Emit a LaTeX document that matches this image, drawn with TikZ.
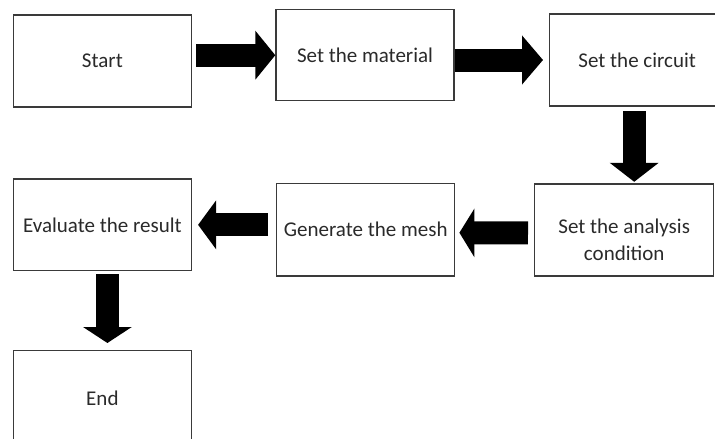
\documentclass[tikz,border=0pt]{standalone}
\usepackage{fontspec}
\setmainfont{Carlito}
\usetikzlibrary{arrows.meta,calc}
\definecolor{boxline}{HTML}{3A3A3A}
\definecolor{txt}{HTML}{2A2A2A}
\tikzset{
  stepbox/.style={draw=boxline, line width=1.4pt, fill=white, inner sep=0pt,
    text=txt, font=\fontsize{21}{25}\selectfont, align=center, anchor=north west},
  bigarrow/.style={line width=23pt, black,
    -{Triangle[length=#1, width=48pt]}},
  bigarrow/.default=19pt
}
\begin{document}
\begin{tikzpicture}[x=1pt,y=-1pt]
\useasboundingbox (0,0) rectangle (715,439);
\clip (0,0) rectangle (715,439);
\node[stepbox, minimum width=178pt, minimum height=92pt] (start) at (12.7,14.3) {\raisebox{-2pt}{Start}};
\node[stepbox, minimum width=178pt, minimum height=91pt] (mat) at (275.3,9) {Set the material};
\node[stepbox, minimum width=175pt, minimum height=92pt] (circ) at (549,13.3) {Set the circuit};
\node[stepbox, minimum width=179pt, minimum height=92pt] (ana) at (534,183.3) {};
\node[text=txt, font=\fontsize{21}{27}\selectfont, align=center, inner sep=0pt] (anatext) at ($(ana.center)+(0,-9.5pt)$) {Set the analysis\\condition};
\node[stepbox, minimum width=178pt, minimum height=92.6pt] (mesh) at (276,182.7) {\raisebox{-2pt}{Generate the mesh}};
\node[stepbox, minimum width=178pt, minimum height=91.7pt] (eval) at (12.7,178.3) {Evaluate the result};
\node[stepbox, minimum width=178pt, minimum height=100pt] (end) at (12.7,350) {\raisebox{4pt}{End}};
\draw[bigarrow=20pt, shorten <=4pt] (start.east |- mat.west) -- (mat.west);
\draw[bigarrow=21pt, shorten <=0pt, shorten >=6pt] (mat.east |- circ.west) -- (circ.west);
\draw[bigarrow=19pt, shorten <=4.5pt, shorten >=1.5pt] ($(circ.south)+(-3pt,0)$) -- ($(circ.south |- ana.north)+(-3pt,0)$);
\draw[bigarrow=15pt, shorten <=6pt, shorten >=4pt] ($(ana.west)+(0,-3pt)$) -- ($(mesh.east)+(0,-3pt)$);
\draw[bigarrow=18pt, shorten <=8pt, shorten >=6pt] (mesh.west |- eval.east) -- (eval.east);
\draw[bigarrow=16pt, shorten <=3pt, shorten >=7pt] ($(eval.south)+(5pt,0)$) -- ($(eval.south |- end.north)+(5pt,0)$);
\end{tikzpicture}
\end{document}
